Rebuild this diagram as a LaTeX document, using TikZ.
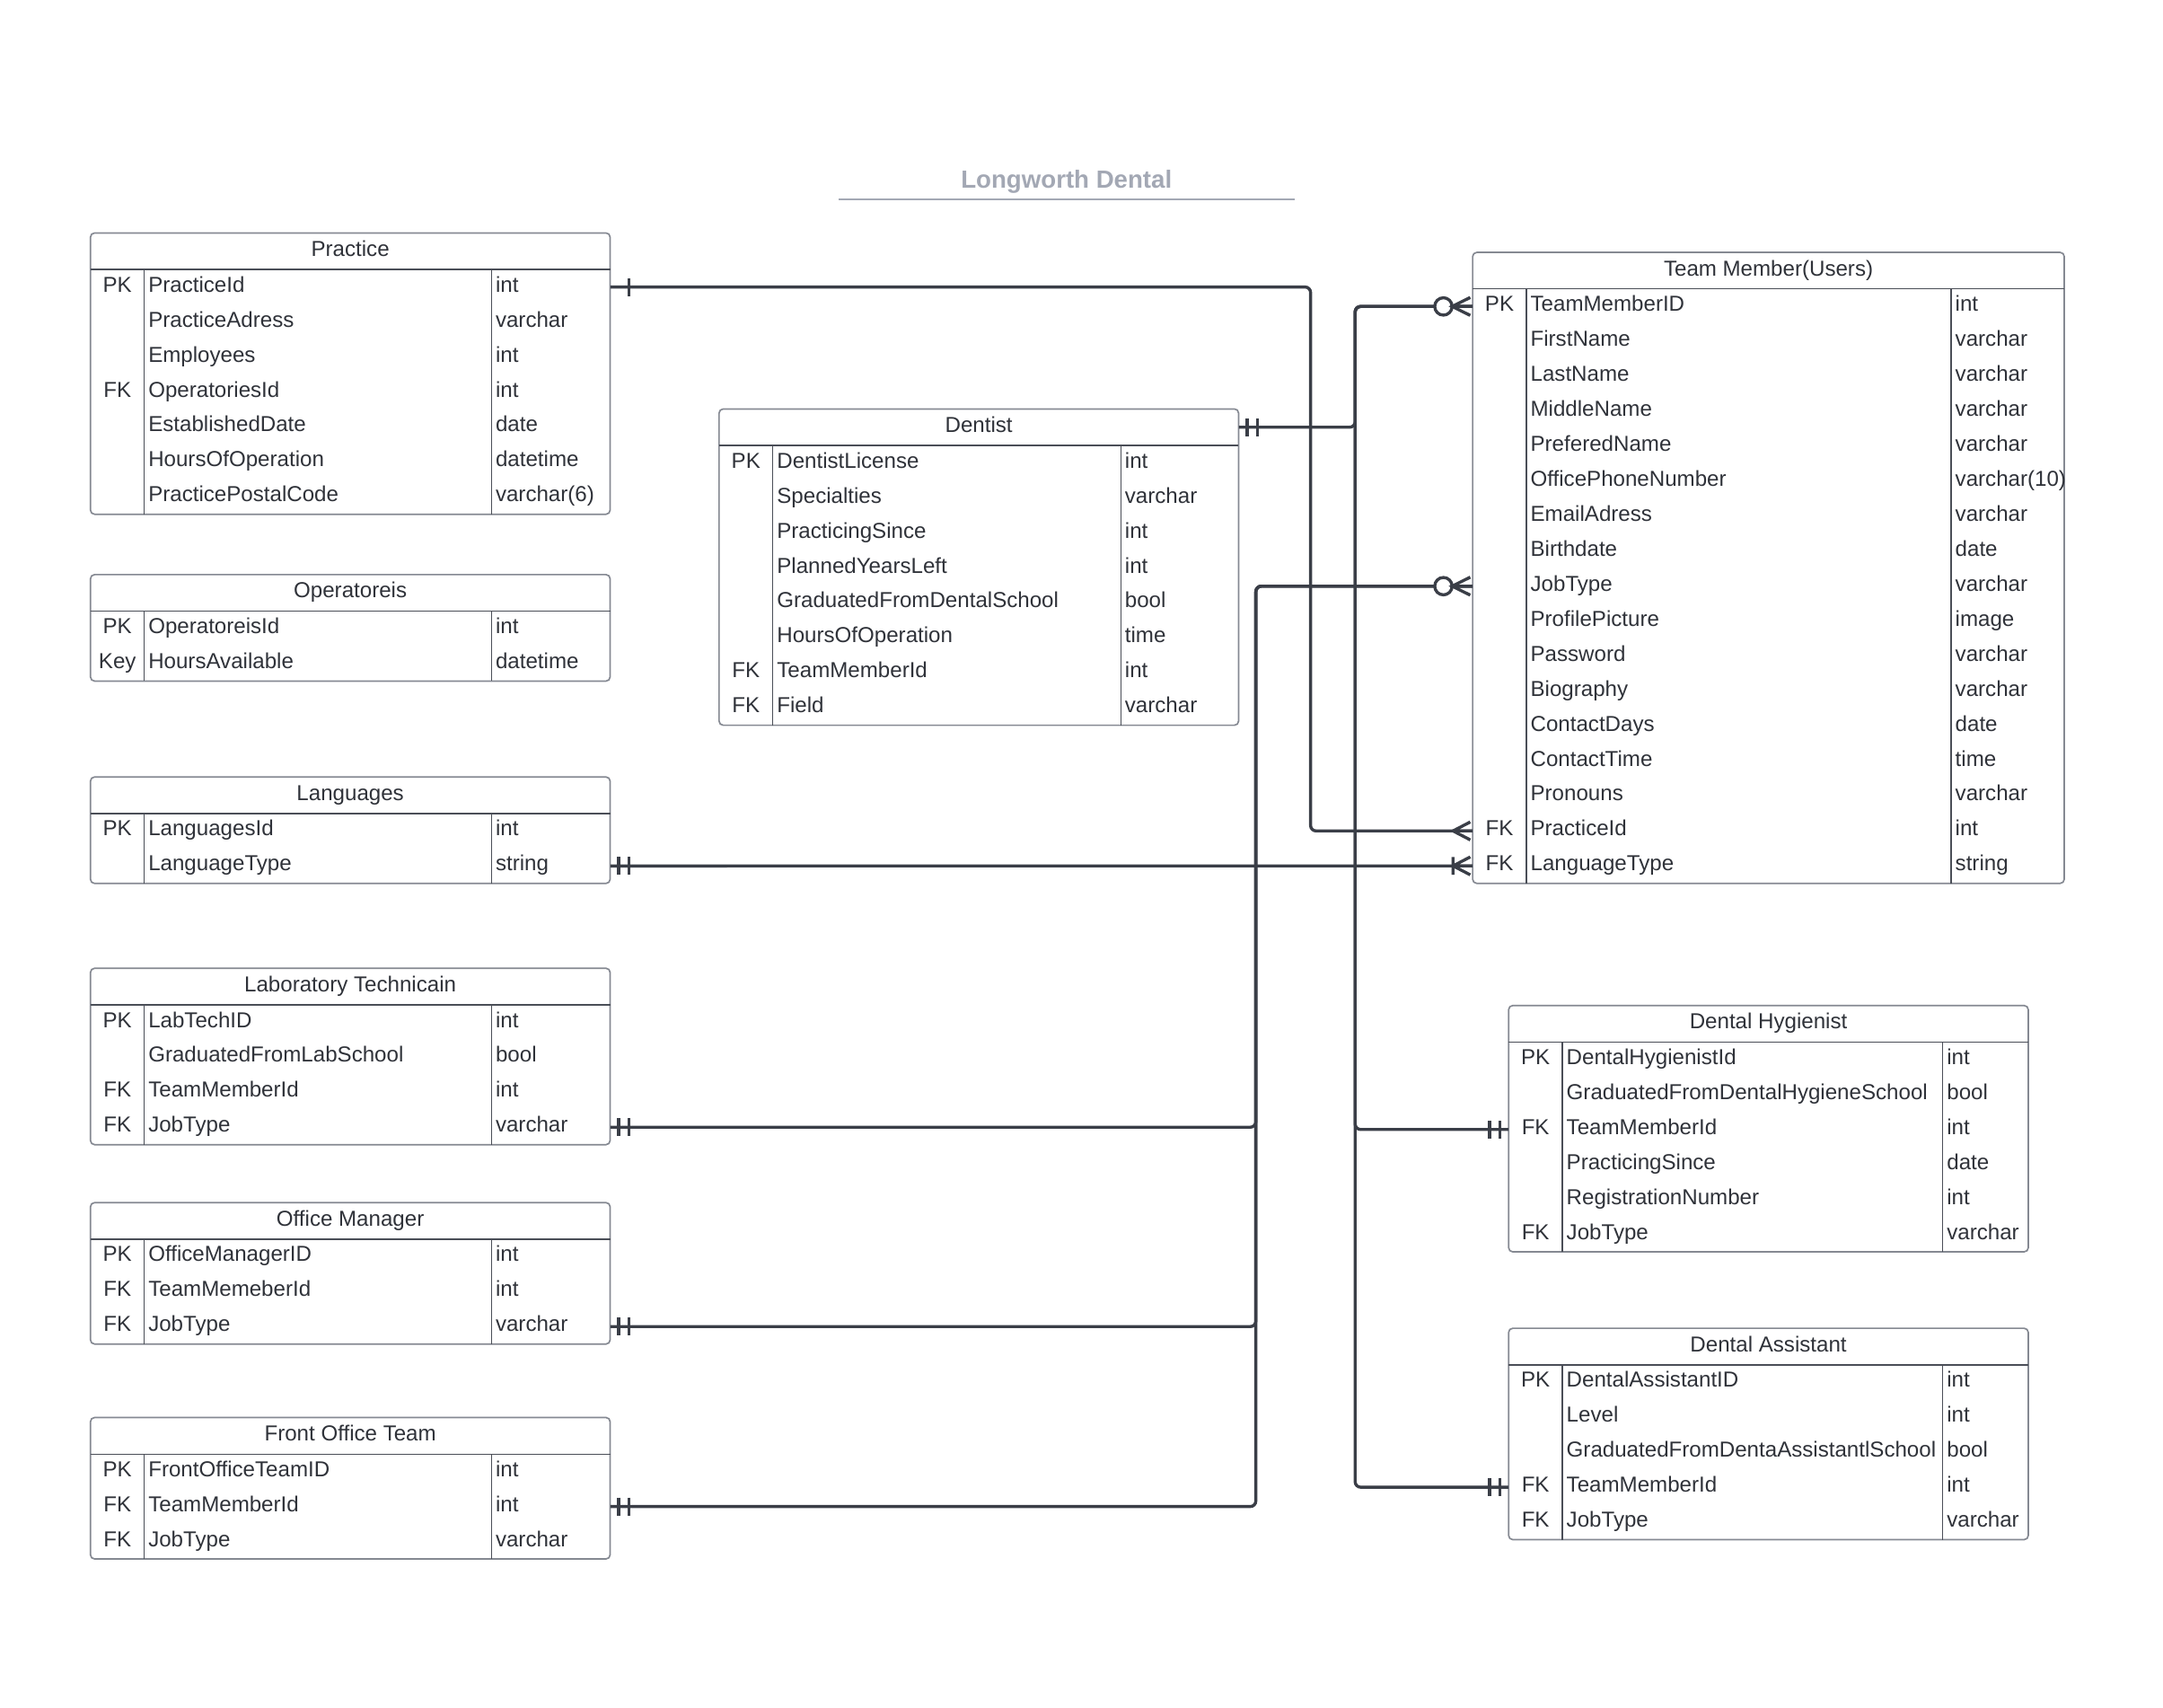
\documentclass[tikz,border=0pt]{standalone}
\usepackage{fontspec}
\setmainfont{Liberation Sans}
\usetikzlibrary{positioning, calc}

\definecolor{erline}{HTML}{3A3E47}
\definecolor{erink}{HTML}{2F3239}
\definecolor{erframe}{HTML}{858992}
\definecolor{ersep}{HTML}{4A4E57}
\definecolor{ertitle}{HTML}{A3A8B4}

\tikzset{
	erbox/.style={draw=erframe, line width=1.1, rounded corners=3},
	errule/.style={draw=ersep, line width=0.9},
	erhead/.style={inner sep=0, minimum height=26.5, text=erink, font=\fontsize{15.7}{18}\selectfont, text height=11.3, text depth=4},
	erkey/.style={inner sep=0, minimum width=39, minimum height=25.35, text=erink, font=\fontsize{15.7}{18}\selectfont, text height=11.3, text depth=4},
	erfield/.style={inner xsep=3, inner ysep=0, minimum height=25.35, align=left, text=erink, font=\fontsize{15.7}{18}\selectfont, text height=11.3, text depth=4},
	erlink/.style={draw=erline, line width=2.2, rounded corners=4},
	ermark/.style={draw=erline, line width=2.2},
	erone/.pic={\draw[ermark] (-13.5,-6.5) -- (-13.5,6.5);},
	ermandone/.pic={\draw[ermark] (-6,-6.5) -- (-6,6.5) (-13.5,-6.5) -- (-13.5,6.5);},
	ermany/.pic={\draw[ermark] (-1.5,-6.5) -- (-14,0) -- (-1.5,6.5) (-14,0) -- (0,0);},
	eronemany/.pic={\draw[ermark] (-1.5,-6.5) -- (-14,0) -- (-1.5,6.5) (-14,0) -- (0,0) (-14,-6.5) -- (-14,6.5);},
	erzeromany/.pic={\draw[ermark, fill=white] (-21,0) circle (6.3);
		\draw[ermark] (-1.5,-6.5) -- (-14.7,0) -- (-1.5,6.5) (-14.7,0) -- (0,0);}
}

% #1 name, #2 left, #3 top, #4 field width, #5 type width, #6 rows, #7 title, #8 key/field/type
\newcommand{\erentity}[8]{%
	\pgfmathsetmacro\erw{39+#4+#5}
	\pgfmathsetmacro\erb{#3+26.5+#6*25.35}
	\pgfmathsetmacro\erfw{#4-6}
	\pgfmathsetmacro\ertw{#5-6}
	\draw[erbox] (#2,#3) rectangle ({#2+\erw},\erb);
	\node[erhead, minimum width=\erw pt] (#1) at ({#2+\erw/2},{#3+13.25}) {#7};
	\foreach [count=\i] \kk/\fld/\typ in {#8} {
		\pgfmathsetmacro\ery{#3+26.5+(\i-0.5)*25.35}
		\node[erkey] (#1-k\i) at ({#2+19.5},\ery) {\kk};
		\node[erfield, text width=\erfw pt] (#1-f\i) at ({#2+39+#4/2},\ery) {\fld};
		\node[erfield, text width=\ertw pt] (#1-t\i) at ({#2+39+#4+#5/2},\ery) {\typ};
	}
	\draw[errule] (#2,{#3+26.5}) -- ({#2+\erw},{#3+26.5})
		({#2+39},{#3+26.5}) -- ({#2+39},\erb)
		({#2+39+#4},{#3+26.5}) -- ({#2+39+#4},\erb);
}

\begin{document}
\begin{tikzpicture}[x=1pt, y=-1pt]
	\useasboundingbox (0,0) rectangle (1568.4,1238.3);

	\node[inner sep=0, minimum width=330, minimum height=28.6, text=ertitle, text height=13, text depth=0, font=\fontsize{18}{21}\selectfont\bfseries] (title) at (773.3,130) {Longworth Dental};
	\draw[draw=ertitle, line width=1.3] (title.south west) -- (title.south east);

	% left column
	\erentity{practice}{65.6}{168.9}{251.8}{86}{7}{Practice}{PK/PracticeId/int, {}/PracticeAdress/varchar, {}/Employees/int, FK/OperatoriesId/int, {}/EstablishedDate/date, {}/HoursOfOperation/datetime, {}/PracticePostalCode/varchar(6)}
	\erentity{operat}{65.6}{416.6}{251.8}{86}{2}{Operatoreis}{PK/OperatoreisId/int, Key/HoursAvailable/datetime}
	\erentity{lang}{65.6}{563.3}{251.8}{86}{2}{Languages}{PK/LanguagesId/int, {}/LanguageType/string}
	\erentity{lab}{65.6}{702}{251.8}{86}{4}{Laboratory Technicain}{PK/LabTechID/int, {}/GraduatedFromLabSchool/bool, FK/TeamMemberId/int, FK/JobType/varchar}
	\erentity{office}{65.6}{871.9}{251.8}{86}{3}{Office Manager}{PK/OfficeManagerID/int, FK/TeamMemeberId/int, FK/JobType/varchar}
	\erentity{front}{65.6}{1027.7}{251.8}{86}{3}{Front Office Team}{PK/FrontOfficeTeamID/int, FK/TeamMemberId/int, FK/JobType/varchar}

	% middle and right
	\erentity{dentist}{521.4}{296.5}{252.3}{85.4}{8}{Dentist}{PK/DentistLicense/int, {}/Specialties/varchar, {}/PracticingSince/int, {}/PlannedYearsLeft/int, {}/GraduatedFromDentalSchool/bool, {}/HoursOfOperation/time, FK/TeamMemberId/int, FK/Field/varchar}
	\erentity{team}{1067.8}{183}{308}{82}{17}{Team Member(Users)}{PK/TeamMemberID/int, {}/FirstName/varchar, {}/LastName/varchar, {}/MiddleName/varchar, {}/PreferedName/varchar, {}/OfficePhoneNumber/varchar(10), {}/EmailAdress/varchar, {}/Birthdate/date, {}/JobType/varchar, {}/ProfilePicture/image, {}/Password/varchar, {}/Biography/varchar, {}/ContactDays/date, {}/ContactTime/time, {}/Pronouns/varchar, FK/PracticeId/int, FK/LanguageType/string}
	\erentity{hyg}{1093.9}{729}{275.8}{62}{6}{Dental Hygienist}{PK/DentalHygienistId/int, {}/GraduatedFromDentalHygieneSchool/bool, FK/TeamMemberId/int, {}/PracticingSince/date, {}/RegistrationNumber/int, FK/JobType/varchar}
	\erentity{assist}{1093.9}{963}{275.8}{62}{5}{Dental Assistant}{PK/DentalAssistantID/int, {}/Level/int, {}/GraduatedFromDentaAssistantlSchool/bool, FK/TeamMemberId/int, FK/JobType/varchar}

	% relations
	\draw[erlink] (practice-t1.east) -- ++(507.7,0) |- (team-k16.west);
	\draw[erlink] (team-k1.west) -- ++(-85,0) |- (dentist.east);
	\draw[erlink] (team-k1.west) -- ++(-85,0) |- (hyg-k3.west);
	\draw[erlink] (team-k1.west) -- ++(-85,0) |- (assist-k4.west);
	\draw[erlink] (team-k9.west) -- ++(-157,0) |- (lab-t4.east);
	\draw[erlink] (team-k9.west) -- ++(-157,0) |- (office-t3.east);
	\draw[erlink] (team-k9.west) -- ++(-157,0) |- (front-t2.east);
	\draw[erlink] (lang-t2.east) -- (team-k17.west);

	\pic[xscale=-1] at (practice-t1.east) {erone};
	\pic at (team-k16.west) {ermany};
	\pic[xscale=-1] at (dentist.east) {ermandone};
	\pic at (team-k1.west) {erzeromany};
	\pic at (hyg-k3.west) {ermandone};
	\pic at (assist-k4.west) {ermandone};
	\pic at (team-k9.west) {erzeromany};
	\pic[xscale=-1] at (lab-t4.east) {ermandone};
	\pic[xscale=-1] at (office-t3.east) {ermandone};
	\pic[xscale=-1] at (front-t2.east) {ermandone};
	\pic[xscale=-1] at (lang-t2.east) {ermandone};
	\pic at (team-k17.west) {eronemany};
\end{tikzpicture}
\end{document}
